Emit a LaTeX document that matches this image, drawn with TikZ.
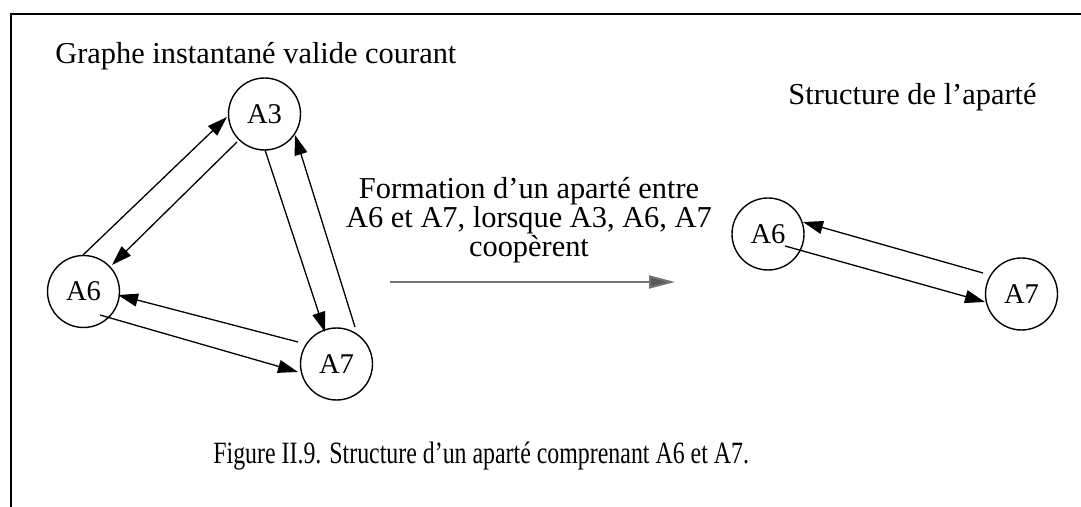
\documentclass[tikz,border=0pt]{standalone}
\usepackage{fontspec}
\setmainfont{Liberation Serif}
\newfontfamily\capfont[FakeStretch=0.77]{Liberation Serif}
\usetikzlibrary{arrows.meta}
\begin{document}
\begin{tikzpicture}[x=0.5pt,y=-0.5pt,
  agent/.style={draw,circle,line width=0.7pt,minimum size=36pt,inner sep=0pt,font=\fontsize{14.3}{16}\selectfont},
  link/.style={line width=0.65pt,-{Triangle[length=10pt,width=6.5pt]}},
  lbl/.style={font=\fontsize{15.2}{14.5}\selectfont,inner sep=0pt},
  move/.style={line width=1pt,draw=black!55,-{Triangle[length=13pt,width=6.5pt,fill=black!65]}}]
\useasboundingbox (0,0) rectangle (1081,507);
\draw[line width=0.8pt] (11,507) -- (11,14) -- (1081,14);
% left graph
\node[agent] (a3) at (264.5,114) {A3};
\node[agent] (a6) at (83.5,291.5) {A6};
\node[agent] (a7) at (336.5,364) {A7};
\coordinate (s63) at (83,255);   \coordinate (t63) at (227,117);
\coordinate (s36) at (237,142);  \coordinate (t36) at (112,265);
\coordinate (s37) at (265,150);  \coordinate (t37) at (325,332);
\coordinate (s73) at (355,327);  \coordinate (t73) at (295,135);
\coordinate (s76) at (298,342);  \coordinate (t76) at (118,295);
\coordinate (s67) at (100,315);  \coordinate (t67) at (298,372);
\draw[link] (s63) -- (t63);
\draw[link] (s36) -- (t36);
\draw[link] (s37) -- (t37);
\draw[link] (s73) -- (t73);
\draw[link] (s76) -- (t76);
\draw[link] (s67) -- (t67);
% right graph
\node[agent] (b6) at (768,234) {A6};
\node[agent] (b7) at (1021.5,294) {A7};
\coordinate (r76s) at (983,273); \coordinate (r76t) at (803,222);
\coordinate (r67s) at (785,246); \coordinate (r67t) at (985,302);
\draw[link] (r76s) -- (r76t);
\draw[link] (r67s) -- (r67t);
% texts
\node[lbl,anchor=base west] (title) at (55,64) {Graphe instantané valide courant};
\node[lbl,anchor=base west] (title2) at (788,105) {Structure de l’aparté};
\node[lbl,align=center,anchor=base] (mid) at (529,257)
  {Formation d’un aparté entre\\A6 et A7, lorsque A3, A6, A7\\coopèrent};
\coordinate (ms) at (390,282);
\coordinate (me) at (675,282);
\draw[move] (ms) -- (me);
\node[inner sep=0pt,anchor=base west,font=\capfont\fontsize{15.5}{16}\selectfont] (cap) at (213,463) {Figure II.9. Structure d’un aparté comprenant A6 et A7.};
\end{tikzpicture}
\end{document}
